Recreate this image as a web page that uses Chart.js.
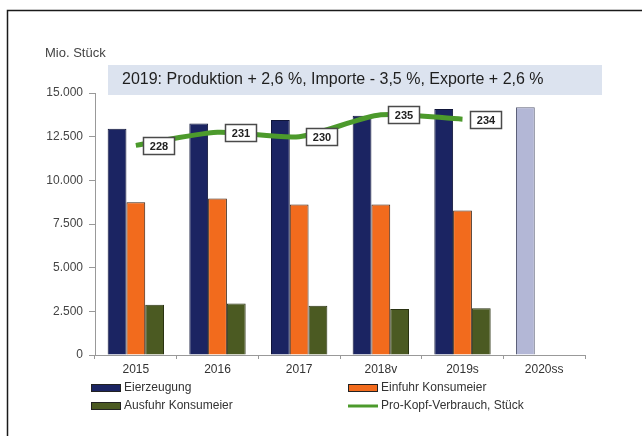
<!DOCTYPE html>
<html lang="de">
<head>
<meta charset="utf-8">
<title>Eiermarkt Österreich</title>
<script src="https://cdn.jsdelivr.net/npm/chart.js@4/dist/chart.umd.min.js"></script>
<style>
  html, body { margin: 0; padding: 0; background: #ffffff; }
  #wrap { width: 642px; height: 436px; position: relative; }
</style>
</head>
<body>
<div id="wrap"><canvas id="c" width="642" height="436"></canvas></div>
<script>
// Jahre
const categories = ['2015', '2016', '2017', '2018v', '2019s', '2020ss'];
// Mio. Stück
const eierzeugung = [12950, 13250, 13450, 13700, 14080, 14180];
const einfuhr = [8750, 8960, 8620, 8620, 8280, null];
const ausfuhr = [2870, 2950, 2820, 2630, 2680, null];
// Stück pro Kopf
const proKopf = [228, 231, 230, 235, 234, null];
const yTickLabels = ['0', '2.500', '5.000', '7.500', '10.000', '12.500', '15.000'];

const headline = '2019: Produktion + 2,6 %, Importe - 3,5 %, Exporte + 2,6 %';
const unitLabel = 'Mio. Stück';

const FONT = '"Liberation Sans", Arial, sans-serif';
const NAVY = '#1b2462';
const NAVY_FORECAST = '#b3b7d6';
const ORANGE = '#f26b1d';
const DKGREEN = '#4b5a22';
const LINEGREEN = '#4c9a2c';

// Rahmen, Überschrift und Einheit
const decorPlugin = {
  id: 'decor',
  beforeDraw(chart) {
    const ctx = chart.ctx;
    ctx.save();
    ctx.fillStyle = '#ffffff';
    ctx.fillRect(0, 0, chart.width, chart.height);
    // Rahmen
    ctx.strokeStyle = '#1a1a1a';
    ctx.lineWidth = 1.5;
    ctx.beginPath();
    ctx.moveTo(7.5, chart.height);
    ctx.lineTo(7.5, 10.5);
    ctx.lineTo(chart.width, 10.5);
    ctx.stroke();
    // Überschriftsbox
    ctx.fillStyle = '#dce3ef';
    ctx.fillRect(108, 65, 494, 30);
    ctx.fillStyle = '#1e1e1e';
    ctx.font = '16px ' + FONT;
    ctx.textBaseline = 'middle';
    ctx.textAlign = 'left';
    ctx.fillText(headline, 122, 80);
    // Einheit
    ctx.fillStyle = '#444444';
    ctx.font = '13px ' + FONT;
    ctx.fillText(unitLabel, 45, 53);
    ctx.restore();
  }
};

// Werte-Kästchen an der Pro-Kopf-Linie
const lineLabelPlugin = {
  id: 'lineLabels',
  afterDatasetsDraw(chart) {
    const idx = chart.data.datasets.findIndex(d => d.type === 'line');
    const meta = chart.getDatasetMeta(idx);
    const ctx = chart.ctx;
    ctx.save();
    ctx.font = 'bold 11px ' + FONT;
    ctx.textAlign = 'center';
    ctx.textBaseline = 'middle';
    meta.data.forEach((pt, i) => {
      const v = chart.data.datasets[idx].data[i];
      if (v === null || v === undefined) return;
      const w = 31, h = 17;
      const bx = Math.round(pt.x + 7) + 0.5;
      const by = Math.round(pt.y - h / 2) + 0.5;
      ctx.fillStyle = '#ffffff';
      ctx.fillRect(bx, by, w, h);
      ctx.strokeStyle = '#4a4a4a';
      ctx.lineWidth = 1.5;
      ctx.strokeRect(bx, by, w, h);
      ctx.fillStyle = '#222222';
      ctx.fillText(String(v), bx + w / 2, by + h / 2 + 0.5);
    });
    ctx.restore();
  }
};

// Legende in zwei Spalten
const legendPlugin = {
  id: 'twoColLegend',
  afterDraw(chart) {
    const ctx = chart.ctx;
    const ds = chart.data.datasets;
    const items = [
      { ds: ds[0], x: 91, y: 388 },
      { ds: ds[1], x: 348, y: 388 },
      { ds: ds[2], x: 91, y: 406 },
      { ds: ds[3], x: 348, y: 406 }
    ];
    ctx.save();
    ctx.font = '12px ' + FONT;
    ctx.textBaseline = 'middle';
    ctx.textAlign = 'left';
    items.forEach(it => {
      if (it.ds.type === 'line') {
        ctx.strokeStyle = it.ds.borderColor;
        ctx.lineWidth = 3;
        ctx.beginPath();
        ctx.moveTo(it.x, it.y);
        ctx.lineTo(it.x + 30, it.y);
        ctx.stroke();
      } else {
        const col = Array.isArray(it.ds.backgroundColor) ? it.ds.backgroundColor[0] : it.ds.backgroundColor;
        ctx.fillStyle = col;
        ctx.fillRect(it.x, it.y - 4, 30, 8);
        ctx.strokeStyle = '#222222';
        ctx.lineWidth = 1;
        ctx.strokeRect(it.x + 0.5, it.y - 3.5, 29, 7);
      }
      ctx.fillStyle = '#333333';
      ctx.fillText(it.ds.label, it.x + 33, it.y);
    });
    ctx.restore();
  }
};

new Chart(document.getElementById('c'), {
  type: 'bar',
  data: {
    labels: categories,
    datasets: [
      {
        label: 'Eierzeugung',
        data: eierzeugung,
        backgroundColor: eierzeugung.map((v, i) => i === eierzeugung.length - 1 ? NAVY_FORECAST : NAVY),
        borderColor: eierzeugung.map((v, i) => i === eierzeugung.length - 1 ? '#5c6078' : '#11163a'),
        borderWidth: 1,
        order: 1,
        yAxisID: 'y'
      },
      {
        label: 'Einfuhr Konsumeier',
        data: einfuhr,
        backgroundColor: ORANGE,
        borderColor: '#3a2010',
        borderWidth: 1,
        order: 1,
        yAxisID: 'y'
      },
      {
        label: 'Ausfuhr Konsumeier',
        data: ausfuhr,
        backgroundColor: DKGREEN,
        borderColor: '#2a3212',
        borderWidth: 1,
        order: 1,
        yAxisID: 'y'
      },
      {
        type: 'line',
        label: 'Pro-Kopf-Verbrauch, Stück',
        data: proKopf,
        borderColor: LINEGREEN,
        backgroundColor: LINEGREEN,
        borderWidth: 5,
        pointRadius: 0,
        tension: 0.25,
        order: 0,
        yAxisID: 'y1'
      }
    ]
  },
  options: {
    responsive: false,
    animation: false,
    devicePixelRatio: 1,
    layout: { padding: { left: 0, right: 57, top: 93, bottom: 0 } },
    datasets: {
      bar: { categoryPercentage: 0.69, barPercentage: 1.0 }
    },
    plugins: {
      legend: { display: false },
      tooltip: { enabled: false },
      title: { display: false }
    },
    scales: {
      x: {
        grid: { display: true, drawOnChartArea: false, tickLength: 4, color: '#999999', offset: true },
        border: { color: '#999999', width: 1 },
        ticks: { color: '#333333', font: { family: FONT, size: 12 }, padding: 3, maxRotation: 0 },
        afterFit(scale) { scale.height = 81; }
      },
      y: {
        min: 0,
        max: 15000,
        grid: { display: true, drawOnChartArea: false, tickLength: 6, color: '#999999' },
        border: { color: '#999999', width: 1 },
        ticks: {
          stepSize: 2500,
          color: '#444444',
          font: { family: FONT, size: 12 },
          padding: 6,
          callback(value, index) { return yTickLabels[index]; }
        },
        afterFit(scale) { scale.width = 95; }
      },
      y1: {
        display: false,
        min: 180,
        max: 240
      }
    }
  },
  plugins: [decorPlugin, lineLabelPlugin, legendPlugin]
});
</script>
</body>
</html>
